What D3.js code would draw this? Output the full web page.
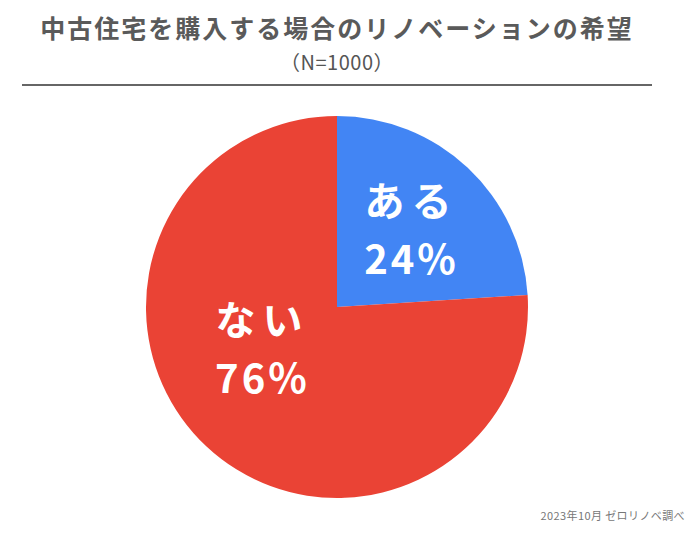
<!DOCTYPE html>
<html>
<head>
<meta charset="utf-8">
<script src="https://cdn.jsdelivr.net/npm/d3@7"></script>
<style>
  body { margin: 0; background: #fff; }
  text { font-family: "Noto Sans CJK JP", "Noto Sans", sans-serif; }
</style>
</head>
<body>
<div id="chart"></div>
<script>
// Data
const categories = ["ある", "ない"];
const shares = [24, 76];
const sliceColors = ["#4285f4", "#ea4335"];
// vertical nudge for each label block (Sheets puts big-slice labels nearer the middle)
const labelNudge = [0, -39];

const width = 688;
const height = 534;
const cx = 337, cy = 307, radius = 191;

const svg = d3.select("#chart").append("svg")
    .attr("width", width)
    .attr("height", height);

// Title block
svg.append("text")
    .attr("x", cx).attr("y", 38)
    .attr("text-anchor", "middle")
    .attr("font-size", 25)
    .attr("font-weight", 700)
    .attr("letter-spacing", 2)
    .attr("fill", "#5a5a5a")
    .text("中古住宅を購入する場合のリノベーションの希望");

svg.append("text")
    .attr("x", cx).attr("y", 70)
    .attr("text-anchor", "middle")
    .attr("font-size", 20)
    .attr("letter-spacing", 0.5)
    .attr("fill", "#555")
    .text("（N=1000）");

svg.append("line")
    .attr("x1", 22).attr("x2", 652)
    .attr("y1", 85).attr("y2", 85)
    .attr("stroke", "#666")
    .attr("stroke-width", 2);

// Pie
const pie = d3.pie().sort(null).value(d => d.value);
const arcs = pie(categories.map((c, i) => ({ name: c, value: shares[i], i })));

const arc = d3.arc().innerRadius(0).outerRadius(radius);
const labelArc = d3.arc().innerRadius(radius * 0.57).outerRadius(radius * 0.57);

const g = svg.append("g").attr("transform", `translate(${cx},${cy})`);

g.selectAll("path")
    .data(arcs)
    .enter().append("path")
    .attr("d", arc)
    .attr("fill", d => sliceColors[d.data.i]);

const labels = g.selectAll("g.label")
    .data(arcs)
    .enter().append("g")
    .attr("class", "label")
    .attr("transform", d => {
        const [x, y] = labelArc.centroid(d);
        return `translate(${x},${y + labelNudge[d.data.i]})`;
    });

labels.append("text")
    .attr("text-anchor", "middle")
    .attr("y", -12)
    .attr("font-size", 40)
    .attr("font-weight", 700)
    .attr("letter-spacing", 7)
    .attr("fill", "#fff")
    .text(d => d.data.name);

labels.append("text")
    .attr("text-anchor", "middle")
    .attr("y", 46)
    .attr("font-size", 40)
    .attr("font-weight", 700)
    .attr("letter-spacing", 3)
    .attr("fill", "#fff")
    .text(d => d.data.value + "%");

// Source note, pushed to the right edge
svg.append("text")
    .attr("x", 685).attr("y", 520)
    .attr("text-anchor", "end")
    .attr("font-size", 11)
    .attr("letter-spacing", 0.4)
    .attr("fill", "#777")
    .text("2023年10月 ゼロリノベ調べ");
</script>
</body>
</html>
